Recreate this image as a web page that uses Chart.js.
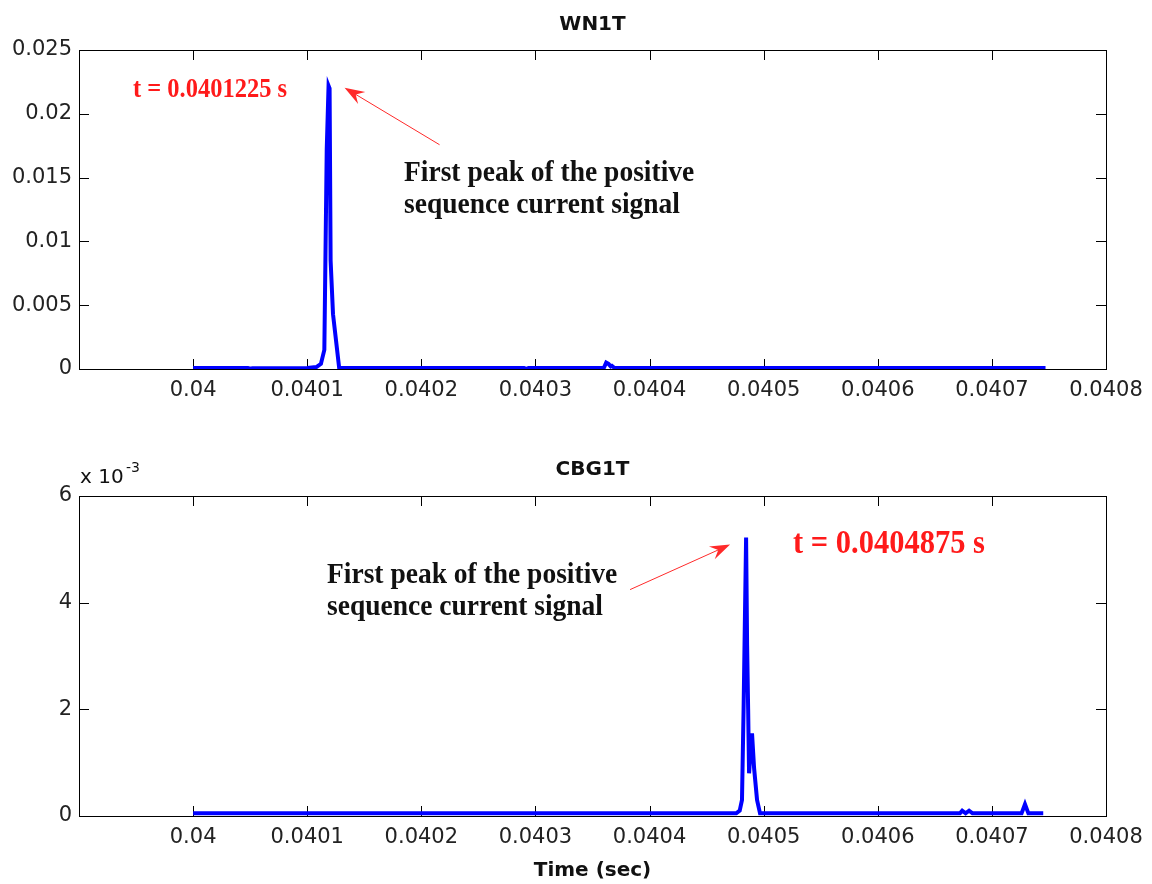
<!DOCTYPE html>
<html lang="en">
<head>
<meta charset="UTF-8">
<title>WN1T / CBG1T positive sequence current</title>
<script src="https://cdn.jsdelivr.net/npm/chart.js"></script>
<style>
    body, html {
        margin: 0;
        padding: 0;
        background: #fff;
        overflow: hidden;
    }
    .panel {
        position: absolute;
        left: 0;
        width: 1152px;
    }
    #top-panel { top: 0; height: 440px; }
    #bottom-panel { top: 440px; height: 444px; }
</style>
</head>
<body>
<div class="panel" id="top-panel"><canvas id="wn1t" width="1152" height="440"></canvas></div>
<div class="panel" id="bottom-panel"><canvas id="cbg1t" width="1152" height="444"></canvas></div>
<script>
// shared time axis ticks (sec)
const xTicks = [0.04, 0.0401, 0.0402, 0.0403, 0.0404, 0.0405, 0.0406, 0.0407, 0.0408];

// WN1T positive sequence current
const topTime = [0.040000, 0.040048, 0.040050, 0.040052, 0.040100, 0.040108, 0.040112, 0.040115,
    0.0401171, 0.0401187, 0.0401196, 0.0401205, 0.0401226, 0.040128, 0.040290, 0.040292,
    0.040294, 0.040360, 0.040362, 0.040364, 0.040366, 0.040367, 0.040369, 0.040747];
const topCurrent = [0.00008, 0.00008, 0.00002, 0.00006, 0.00008, 0.00015, 0.0004, 0.0015,
    0.0172, 0.0222, 0.0220, 0.0085, 0.0043, 0.00008, 0.00008, 0.00001,
    0.00008, 0.0001, 0.0005, 0.0004, 0.0002, 0.00025, 0.0001, 0.00008];
const topYTicks = [0, 0.005, 0.01, 0.015, 0.02, 0.025];
const topYLabels = ['0', '0.005', '0.01', '0.015', '0.02', '0.025'];

// CBG1T positive sequence current
const bottomTime = [0.040000, 0.040476, 0.040479, 0.040481, 0.0404824, 0.0404846, 0.0404855,
    0.0404864, 0.0404872, 0.0404885, 0.0404898, 0.0404916, 0.0404942, 0.0404968, 0.040672,
    0.040674, 0.040677, 0.040680, 0.040683, 0.040726, 0.040729, 0.040732, 0.040745];
const bottomCurrent = [0.00005, 0.00005, 0.0001, 0.0003, 0.002, 0.00522, 0.0032,
    0.002, 0.0008, 0.0012, 0.00155, 0.0009, 0.0003, 0.00005, 0.00005,
    0.0001, 0.00005, 0.0001, 0.00005, 0.00005, 0.00022, 0.00005, 0.00005];
const bottomYTicks = [0, 0.002, 0.004, 0.006];
const bottomYLabels = ['0', '2', '4', '6'];

const tickFont = { family: '"DejaVu Sans", sans-serif', size: 21 };

function drawArrow(ctx, x1, y1, x2, y2) {
    const ang = Math.atan2(y2 - y1, x2 - x1);
    const len = 20, half = 7;
    ctx.strokeStyle = '#ff2a2a';
    ctx.fillStyle = '#ff2a2a';
    ctx.lineWidth = 1;
    ctx.beginPath();
    ctx.moveTo(x1, y1);
    ctx.lineTo(x2 - Math.cos(ang) * 10, y2 - Math.sin(ang) * 10);
    ctx.stroke();
    const bx = x2 - Math.cos(ang) * len, by = y2 - Math.sin(ang) * len;
    const nx = -Math.sin(ang), ny = Math.cos(ang);
    ctx.beginPath();
    ctx.moveTo(x2, y2);
    ctx.lineTo(bx + nx * half, by + ny * half);
    ctx.lineTo(x2 - Math.cos(ang) * 13, y2 - Math.sin(ang) * 13);
    ctx.lineTo(bx - nx * half, by - ny * half);
    ctx.closePath();
    ctx.fill();
}

// the serif notes in the figure are a tall, narrow Times
function tallText(ctx, text, x, y, sy) {
    ctx.save();
    ctx.translate(x, y);
    ctx.scale(1, sy);
    ctx.fillText(text, 0, 0);
    ctx.restore();
}

// matlab style frame: box with inward ticks on all four sides
const framePlugin = {
    id: 'frame',
    beforeDatasetsDraw(chart) {
        const { ctx, chartArea: a, scales } = chart;
        ctx.save();
        ctx.strokeStyle = '#000';
        ctx.lineWidth = 1;
        ctx.strokeRect(a.left + 0.5, a.top + 0.5, a.right - a.left, a.bottom - a.top);
        ctx.beginPath();
        scales.x.ticks.forEach(t => {
            const px = Math.round(scales.x.getPixelForValue(t.value)) + 0.5;
            ctx.moveTo(px, a.bottom); ctx.lineTo(px, a.bottom - 10);
            ctx.moveTo(px, a.top); ctx.lineTo(px, a.top + 10);
        });
        scales.y.ticks.forEach(t => {
            const py = Math.round(scales.y.getPixelForValue(t.value)) + 0.5;
            ctx.moveTo(a.left, py); ctx.lineTo(a.left + 10, py);
            ctx.moveTo(a.right, py); ctx.lineTo(a.right - 10, py);
        });
        ctx.stroke();
        ctx.restore();
    },
    afterDraw(chart) {
        const o = chart.options.plugins.frame;
        const { ctx, chartArea: a, scales } = chart;
        const mid = (a.left + a.right) / 2;
        ctx.save();
        ctx.fillStyle = '#111';
        ctx.textAlign = 'center';
        ctx.textBaseline = 'middle';
        ctx.font = 'bold 20px "DejaVu Sans", sans-serif';
        ctx.fillText(o.title, mid, o.titleY);
        if (o.xTitle) ctx.fillText(o.xTitle, mid, o.xTitleY);
        if (o.exponent) {
            ctx.textAlign = 'left';
            ctx.font = '20px "DejaVu Sans", sans-serif';
            ctx.fillText('x 10', a.left + 1, a.top - 18);
            ctx.font = '14px "DejaVu Sans", sans-serif';
            ctx.fillText(o.exponent, a.left + 47, a.top - 28);
        }

        // peak annotation
        const data = chart.data.datasets[0].data;
        let peak = data[0];
        data.forEach(p => { if (p.y > peak.y) peak = p; });
        const px = scales.x.getPixelForValue(peak.x);
        const py = scales.y.getPixelForValue(peak.y);
        const n = o.note;
        drawArrow(ctx, px + n.tail[0], py + n.tail[1], px + n.head[0], py + n.head[1]);

        ctx.textAlign = 'left';
        ctx.textBaseline = 'alphabetic';
        ctx.fillStyle = '#ff1a1a';
        ctx.font = 'bold ' + n.timeSize + 'px "Liberation Serif", serif';
        tallText(ctx, n.timeText, n.timeX, n.timeY, 1.1);
        ctx.fillStyle = '#111';
        ctx.font = 'bold 27.5px "Liberation Serif", serif';
        tallText(ctx, n.lines[0], n.textX, n.textY, 1.1);
        tallText(ctx, n.lines[1], n.textX, n.textY + 32, 1.1);
        ctx.restore();
    }
};

function makeChart(id, time, current, yMax, yTicks, yLabels, xHeight, frameOpts) {
    const points = time.map((t, i) => ({ x: t, y: current[i] }));
    return new Chart(document.getElementById(id), {
        type: 'line',
        data: {
            datasets: [{
                data: points,
                borderColor: '#0000ff',
                borderWidth: 4,
                pointRadius: 0,
                tension: 0,
                fill: false
            }]
        },
        options: {
            responsive: false,
            animation: false,
            layout: { padding: { top: frameOpts.top, right: 46, left: 0, bottom: 0 } },
            plugins: {
                legend: { display: false },
                tooltip: { enabled: false },
                frame: frameOpts
            },
            scales: {
                x: {
                    type: 'linear',
                    min: 0.0399,
                    max: 0.0408,
                    grid: { display: false, drawTicks: false },
                    border: { display: false },
                    afterBuildTicks: s => { s.ticks = xTicks.map(v => ({ value: v })); },
                    afterFit: s => { s.height = xHeight; },
                    ticks: {
                        font: tickFont,
                        color: '#222',
                        padding: 9,
                        maxRotation: 0,
                        autoSkip: false,
                        callback: v => String(v)
                    }
                },
                y: {
                    min: 0,
                    max: yMax,
                    grid: { display: false, drawTicks: false },
                    border: { display: false },
                    afterBuildTicks: s => { s.ticks = yTicks.map(v => ({ value: v })); },
                    afterFit: s => { s.width = 79; },
                    ticks: {
                        font: tickFont,
                        color: '#222',
                        padding: 7,
                        callback: (v, i) => yLabels[i]
                    }
                }
            }
        },
        plugins: [framePlugin]
    });
}

makeChart('wn1t', topTime, topCurrent, 0.025, topYTicks, topYLabels, 71, {
    top: 50,
    title: 'WN1T',
    titleY: 25,
    note: {
        head: [16, 2], tail: [111, 59],
        timeText: 't = 0.0401225 s', timeSize: 24.5, timeX: 133, timeY: 97,
        lines: ['First peak of the positive', 'sequence current signal'],
        textX: 404, textY: 181
    }
});

makeChart('cbg1t', bottomTime, bottomCurrent, 0.006, bottomYTicks, bottomYLabels, 68, {
    top: 56,
    title: 'CBG1T',
    titleY: 30,
    exponent: '-3',
    xTitle: 'Time (sec)',
    xTitleY: 431,
    note: {
        head: [-16, 7], tail: [-116, 52],
        timeText: 't = 0.0404875 s', timeSize: 30.5, timeX: 793, timeY: 113,
        lines: ['First peak of the positive', 'sequence current signal'],
        textX: 327, textY: 143
    }
});
</script>
</body>
</html>
